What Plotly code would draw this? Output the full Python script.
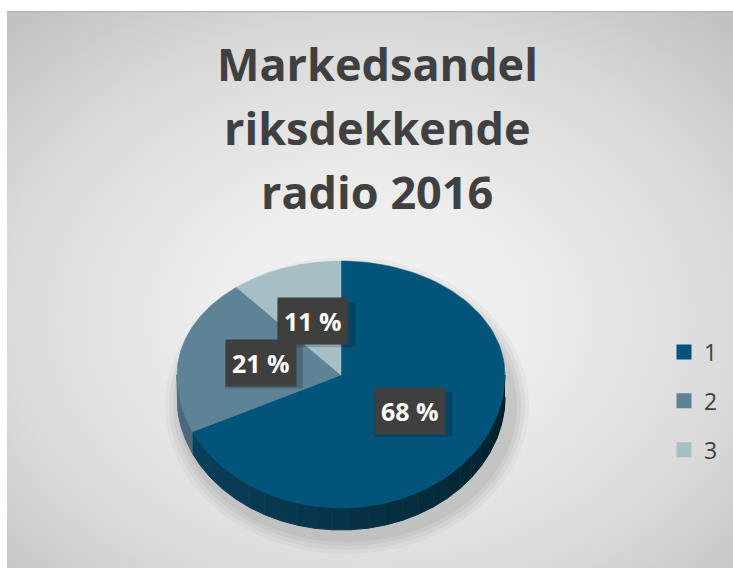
import base64
import numpy as np
import plotly.graph_objects as go

# ---- data ----
categories = ["1", "2", "3"]
values = [68, 21, 11]
label_texts = ["68 %", "21 %", "11 %"]
title_lines = ["Markedsandel", "riksdekkende", "radio 2016"]

# ---- styling ----
top_colors = ["#02547a", "#5e8296", "#a6bfc7"]
wall_light = [(12, 70, 98), (78, 106, 124), (140, 165, 172)]
wall_dark = [(0, 26, 36), (60, 88, 104), (120, 145, 152)]
W, H = 733, 568
cx, cy = 341, 375
rx, ry_up, ry_down = 164, 114, 133
depth = 22


def pt(a_cw):
    """clockwise angle from 12 o'clock (deg) -> pixel coords on the top face edge"""
    t = np.radians(90 - np.asarray(a_cw, dtype=float))
    s = np.sin(t)
    ry = np.where(s > 0, ry_up, ry_down)
    return cx + rx * np.cos(t), cy - ry * s


fig = go.Figure()

total = float(sum(values))
bounds = np.concatenate([[0], np.cumsum(values) / total * 360])

# side walls (front half: clockwise angles 90..270)
for i in range(len(values)):
    a0, a1 = max(bounds[i], 90), min(bounds[i + 1], 270)
    if a1 <= a0:
        continue
    nseg = max(2, int((a1 - a0) / 6))
    edges = np.linspace(a0, a1, nseg + 1)
    for k in range(nseg):
        aa = np.linspace(edges[k], edges[k + 1], 6)
        xs, ys = pt(aa)
        px = np.concatenate([xs, xs[::-1]])
        py = np.concatenate([ys, ys[::-1] + depth])
        fr = ((edges[k] + edges[k + 1]) / 2 - 90) / 180.0
        fr = min(max(fr, 0), 1) ** 0.8
        c = tuple(int(wall_dark[i][j] + (wall_light[i][j] - wall_dark[i][j]) * fr) for j in range(3))
        col = "rgb(%d,%d,%d)" % c
        fig.add_trace(go.Scatter(x=px, y=py, mode="lines", fill="toself", fillcolor=col,
                                 line=dict(color=col, width=1), hoverinfo="skip", showlegend=False))

# top faces
for i in range(len(values)):
    aa = np.linspace(bounds[i], bounds[i + 1], 120)
    xs, ys = pt(aa)
    px = np.concatenate([[cx], xs, [cx]])
    py = np.concatenate([[cy], ys, [cy]])
    fig.add_trace(go.Scatter(x=px, y=py, mode="lines", fill="toself", fillcolor=top_colors[i],
                             line=dict(color=top_colors[i], width=0.5),
                             name=categories[i], text=label_texts[i], hoverinfo="text",
                             showlegend=False))

# legend entries
for i, cat in enumerate(categories):
    fig.add_trace(go.Scatter(x=[None], y=[None], mode="markers", name=cat, legendgroup=cat,
                             marker=dict(symbol="square", size=15, color=top_colors[i])))

# data labels
for i in range(len(values)):
    mid = (bounds[i] + bounds[i + 1]) / 2
    t = np.radians(90 - mid)
    s = np.sin(t)
    ry = ry_up if s > 0 else ry_down
    lx, ly = cx + 0.5 * rx * np.cos(t), cy - 0.5 * ry * s
    # soft drop shadow
    fig.add_shape(type="rect", xref="x", yref="y", x0=lx - 36, x1=lx + 42, y0=ly - 19, y1=ly + 26,
                  fillcolor="rgba(0,0,0,0.18)", line=dict(width=0))
    fig.add_annotation(x=lx, y=ly, xref="x", yref="y",
                       text="<b>%s</b>" % label_texts[i], showarrow=False,
                       font=dict(family="Open Sans", size=25, color="white"),
                       bgcolor="#3f3f3f", borderpad=6)

# title
baselines = [84, 148, 212]
for line, b in zip(title_lines, baselines):
    fig.add_annotation(x=377, y=b - 21, xref="x", yref="y", text="<b>%s</b>" % line,
                       showarrow=False, yanchor="middle",
                       font=dict(family="Open Sans", size=45, color="#404040"))

# shadow under pie
for k, op in enumerate([0.05, 0.06, 0.07, 0.08]):
    g = 18 - 4 * k
    fig.add_shape(type="circle", xref="x", yref="y", layer="below",
                  x0=cx - rx - g + 6, x1=cx + rx + g + 6,
                  y0=cy - ry_up - g + 14, y1=cy + ry_down + depth + g + 6,
                  fillcolor="rgba(90,90,90,%.2f)" % op, line=dict(width=0))

svg = (
    "<svg xmlns='http://www.w3.org/2000/svg' width='726' height='557'>"
    "<defs><radialGradient id='g' cx='0.5' cy='0.55' r='0.72'>"
    "<stop offset='0' stop-color='#f3f3f3'/>"
    "<stop offset='0.3' stop-color='#ededed'/>"
    "<stop offset='0.7' stop-color='#dadada'/>"
    "<stop offset='1' stop-color='#c2c2c2'/>"
    "</radialGradient></defs>"
    "<rect width='726' height='557' fill='url(#g)'/>"
    "<line x1='0' y1='0.5' x2='726' y2='0.5' stroke='#b5b5b5' stroke-width='1.5'/>"
    "</svg>"
)
src = "data:image/svg+xml;base64," + base64.b64encode(svg.encode()).decode()

fig.update_layout(
    width=W, height=H,
    margin=dict(l=0, r=0, t=0, b=0),
    paper_bgcolor="white", plot_bgcolor="rgba(0,0,0,0)",
    xaxis=dict(range=[0, W], visible=False, fixedrange=True),
    yaxis=dict(range=[H, 0], visible=False, fixedrange=True),
    images=[dict(source=src, xref="paper", yref="paper", x=7 / W, y=1 - 11 / H,
                 sizex=726 / W, sizey=557 / H, xanchor="left", yanchor="top",
                 sizing="stretch", layer="below")],
    legend=dict(x=664 / W, y=1 - 401 / H, xanchor="left", yanchor="middle",
                font=dict(family="Open Sans", size=23, color="#404040"),
                bgcolor="rgba(0,0,0,0)", tracegroupgap=16),
    showlegend=True,
)

fig.write_html("out.html")
